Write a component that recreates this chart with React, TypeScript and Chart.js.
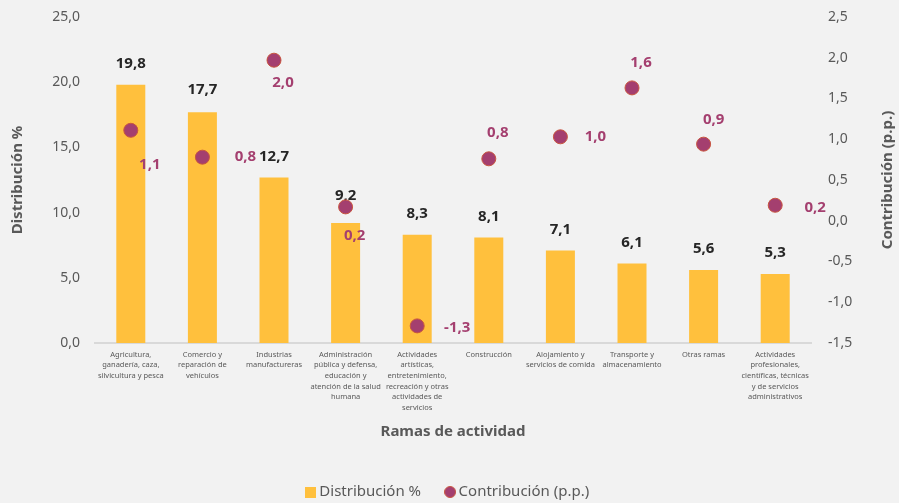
import React, { useEffect, useRef } from 'react';
import { Chart, registerables } from 'chart.js';
Chart.register(...registerables);

const FONT = '"Noto Sans", "DejaVu Sans", sans-serif';

const categories: string[][] = [
  ['Agricultura,', 'ganadería, caza,', 'silvicultura y pesca'],
  ['Comercio y', 'reparación de', 'vehículos'],
  ['Industrias', 'manufactureras'],
  ['Administración', 'pública y defensa,', 'educación y', 'atención de la salud', 'humana'],
  ['Actividades', 'artísticas,', 'entretenimiento,', 'recreación y otras', 'actividades de', 'servicios'],
  ['Construcción'],
  ['Alojamiento y', 'servicios de comida'],
  ['Transporte y', 'almacenamiento'],
  ['Otras ramas'],
  ['Actividades', 'profesionales,', 'científicas, técnicas', 'y de servicios', 'administrativos'],
];

const distribution = [19.8, 17.7, 12.7, 9.2, 8.3, 8.1, 7.1, 6.1, 5.6, 5.3];
const contribution = [1.11, 0.78, 1.97, 0.17, -1.29, 0.76, 1.03, 1.63, 0.94, 0.19];

const leftTicks = { min: 0, max: 25, step: 5 };
const rightTicks = { min: -1.5, max: 2.5, step: 0.5 };

// label placement (style)
const BAR_LABEL_GAPS = [21, 22, 21, 27, 21, 21, 21, 21, 21, 21];
const POINT_LABEL_OFFSETS: [number, number][] = [
  [19, 34], [43, 0], [9, 23], [9, 29], [40, 2], [9, -26], [35, 0], [9, -25], [10, -24], [40, 2],
];

const BAR_COLOR = '#FFC03D';
const POINT_COLOR = '#A43F6F';
const POINT_BORDER = '#C8553F';
const TEXT_GRAY = '#595959';

const fmt = (v: number) => v.toFixed(1).replace('.', ',');

export default function App() {
  const ref = useRef<HTMLCanvasElement>(null);

  useEffect(() => {
    const sq = document.createElement('canvas');
    sq.width = 11; sq.height = 11;
    const sctx = sq.getContext('2d')!;
    sctx.fillStyle = BAR_COLOR;
    sctx.fillRect(0, 0, 11, 11);

    const ci = document.createElement('canvas');
    ci.width = 12; ci.height = 12;
    const cctx = ci.getContext('2d')!;
    cctx.fillStyle = POINT_COLOR;
    cctx.strokeStyle = POINT_BORDER;
    cctx.lineWidth = 1;
    cctx.beginPath();
    cctx.arc(6, 6, 5.5, 0, Math.PI * 2);
    cctx.fill();
    cctx.stroke();

    const labelPlugin = {
      id: 'valueLabels',
      afterDatasetDraw(chart: any, args: any) {
        const ctx = chart.ctx;
        ctx.save();
        ctx.textAlign = 'center';
        ctx.textBaseline = 'middle';
        ctx.font = `bold 15px ${FONT}`;
        if (args.index === 0) {
          ctx.fillStyle = '#262626';
          chart.getDatasetMeta(0).data.forEach((el: any, i: number) => {
            ctx.fillText(fmt(distribution[i]), el.x, el.y - BAR_LABEL_GAPS[i]);
          });
        } else if (args.index === 1) {
          ctx.fillStyle = POINT_COLOR;
          chart.getDatasetMeta(1).data.forEach((el: any, i: number) => {
            const [dx, dy] = POINT_LABEL_OFFSETS[i];
            ctx.fillText(fmt(contribution[i]), el.x + dx, el.y + dy);
          });
        }
        ctx.restore();
      },
      afterDraw(chart: any) {
        // right axis title, reading bottom-to-top
        const ctx = chart.ctx;
        const ca = chart.chartArea;
        ctx.save();
        ctx.textAlign = 'center';
        ctx.textBaseline = 'middle';
        ctx.font = `bold 15px ${FONT}`;
        ctx.translate(888, (ca.top + ca.bottom) / 2);
        ctx.rotate(-Math.PI / 2);
        ctx.fillStyle = TEXT_GRAY;
        ctx.fillText('Contribución (p.p.)', 0, 0);
        ctx.restore();
      },
    };

    const chart = new Chart(ref.current!, {
      type: 'bar',
      data: {
        labels: categories,
        datasets: [
          {
            type: 'bar',
            label: 'Distribución %',
            data: distribution,
            backgroundColor: BAR_COLOR,
            yAxisID: 'y',
            categoryPercentage: 1,
            barPercentage: 0.405,
            order: 1,
          },
          {
            type: 'line',
            label: 'Contribución (p.p.)',
            data: contribution,
            showLine: false,
            pointRadius: 7,
            pointHoverRadius: 7,
            pointBackgroundColor: POINT_COLOR,
            pointBorderColor: POINT_BORDER,
            pointBorderWidth: 1,
            yAxisID: 'y1',
            order: 0,
          } as any,
        ],
      },
      options: {
        responsive: false,
        animation: false,
        layout: { padding: { top: 17, left: 0, right: 0, bottom: -6.5 } },
        plugins: {
          tooltip: { enabled: false },
          legend: {
            position: 'bottom',
            labels: {
              usePointStyle: true,
              boxWidth: 2,
              boxHeight: 11,
              padding: 28,
              color: TEXT_GRAY,
              font: { size: 15, family: FONT },
              generateLabels: () => [
                { text: 'Distribución %', pointStyle: sq, fontColor: TEXT_GRAY, datasetIndex: 0, hidden: false, lineWidth: 0 } as any,
                { text: 'Contribución (p.p.)', pointStyle: ci, fontColor: TEXT_GRAY, datasetIndex: 1, hidden: false, lineWidth: 0 } as any,
              ],
            },
          },
        },
        scales: {
          x: {
            offset: true,
            grid: { display: false, drawTicks: false },
            border: { display: true, color: '#D9D9D9', width: 2 },
            ticks: {
              color: TEXT_GRAY,
              font: { size: 7.5, family: FONT, lineHeight: 1.43 },
              maxRotation: 0,
              minRotation: 0,
              autoSkip: false,
              padding: 6,
            },
            title: {
              display: true,
              text: 'Ramas de actividad',
              color: TEXT_GRAY,
              font: { size: 15, weight: 'bold', family: FONT },
              padding: { top: 4, bottom: 15.5 },
            },
            afterFit: (s: any) => { s.height = 113.5; },
          },
          y: {
            position: 'left',
            min: leftTicks.min,
            max: leftTicks.max,
            grid: { display: false, drawTicks: false },
            border: { display: false },
            ticks: {
              stepSize: leftTicks.step,
              color: TEXT_GRAY,
              font: { size: 14, family: FONT },
              padding: 15,
              callback: (v: any) => fmt(Number(v)),
            },
            title: {
              display: true,
              text: 'Distribución %',
              color: TEXT_GRAY,
              font: { size: 15, weight: 'bold', family: FONT },
              padding: { top: 9, bottom: 0 },
            },
            afterFit: (s: any) => { s.width = 95; s.paddingTop = 8; s.paddingBottom = 8; },
          },
          y1: {
            position: 'right',
            min: rightTicks.min,
            max: rightTicks.max,
            grid: { display: false, drawTicks: false },
            border: { display: false },
            ticks: {
              stepSize: rightTicks.step,
              color: TEXT_GRAY,
              font: { size: 14, family: FONT },
              padding: 17,
              callback: (v: any) => fmt(Number(v)),
            },
            afterFit: (s: any) => { s.width = 88; s.paddingTop = 8; s.paddingBottom = 8; },
          },
        },
      } as any,
      plugins: [labelPlugin],
    });
    return () => chart.destroy();
  }, []);

  return (
    <div style={{ position: 'fixed', left: 0, top: 0, width: 899, height: 503, background: '#F2F2F2' }}>
      <canvas ref={ref} width={899} height={503} style={{ width: 899, height: 503, display: 'block' }} />
    </div>
  );
}
